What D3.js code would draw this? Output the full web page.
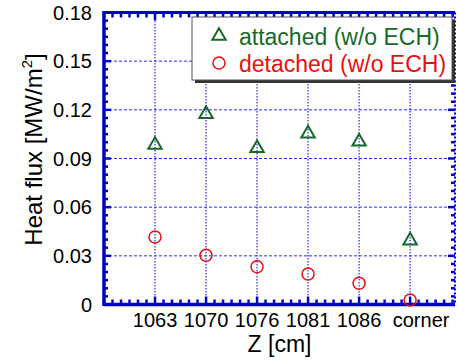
<!DOCTYPE html>
<html>
<head>
<meta charset="utf-8">
<script src="https://cdn.jsdelivr.net/npm/d3@7"></script>
<style>
  body { margin: 0; background: #fff; }
  svg { display: block; font-family: "Liberation Sans", Arial, sans-serif; }
</style>
</head>
<body>
<div id="chart"></div>
<script>
const categories = ['1063', '1070', '1076', '1081', '1086', 'corner'];
const attached = [0.099, 0.118, 0.097, 0.106, 0.101, 0.040];
const detached = [0.0416, 0.0303, 0.0233, 0.0188, 0.0131, 0.0028];
const yTicks = [0, 0.03, 0.06, 0.09, 0.12, 0.15, 0.18];
const yTickLabels = ['0', '0.03', '0.06', '0.09', '0.12', '0.15', '0.18'];

const width = 458, height = 360;
const blue = '#0000cc', grid = '#2b2bf0', green = '#17692b', red = '#e81010';

const svg = d3.select('#chart').append('svg')
    .attr('width', width)
    .attr('height', height);

const x = d3.scaleLinear().domain([-1, 5.88]).range([104, 455]);
const y = d3.scaleLinear().domain([0, 0.18]).range([304.5, 12.5]);

// grid
svg.append('g').selectAll('line')
    .data(yTicks.slice(1, -1))
  .enter().append('line')
    .attr('x1', x(-1)).attr('x2', x(5.88))
    .attr('y1', d => y(d)).attr('y2', d => y(d))
    .attr('stroke', grid).attr('stroke-width', 1)
    .attr('stroke-dasharray', '3,2');

svg.append('g').selectAll('line')
    .data(categories.map((c, i) => i))
  .enter().append('line')
    .attr('x1', d => x(d)).attr('x2', d => x(d))
    .attr('y1', y(0)).attr('y2', y(0.18))
    .attr('stroke', grid).attr('stroke-width', 1.2)
    .attr('stroke-dasharray', '1.5,1.5');

// minor / major ticks
const xMinor = d3.range(-1, 5.89, 1 / 6);
const yMinor = d3.range(0, 0.1801, 0.005);
const ticks = svg.append('g').attr('stroke', blue);

xMinor.forEach(v => {
  const major = Math.abs(v - Math.round(v)) < 1e-6 && v >= 0;
  const len = major ? 8 : 5;
  ticks.append('line').attr('x1', x(v)).attr('x2', x(v))
      .attr('y1', y(0)).attr('y2', y(0) - len).attr('stroke-width', 2.5);
  ticks.append('line').attr('x1', x(v)).attr('x2', x(v))
      .attr('y1', y(0.18)).attr('y2', y(0.18) + len).attr('stroke-width', 2.5);
});
yMinor.forEach(v => {
  const major = yTicks.some(t => Math.abs(t - v) < 1e-6);
  const len = major ? 7 : 4;
  ticks.append('line').attr('x1', x(-1)).attr('x2', x(-1) + len)
      .attr('y1', y(v)).attr('y2', y(v)).attr('stroke-width', 2.5);
  ticks.append('line').attr('x1', x(5.88)).attr('x2', x(5.88) - len)
      .attr('y1', y(v)).attr('y2', y(v)).attr('stroke-width', 2.5);
});

// frame
svg.append('line').attr('x1', x(-1)).attr('x2', x(-1))
    .attr('y1', y(0.18) - 1.5).attr('y2', y(0) + 1.5)
    .attr('stroke', blue).attr('stroke-width', 3.5);
svg.append('line').attr('x1', x(-1)).attr('x2', x(5.88))
    .attr('y1', y(0)).attr('y2', y(0))
    .attr('stroke', blue).attr('stroke-width', 3.5);
svg.append('line').attr('x1', x(-1)).attr('x2', x(5.88))
    .attr('y1', y(0.18)).attr('y2', y(0.18))
    .attr('stroke', blue).attr('stroke-width', 3);
svg.append('line').attr('x1', x(5.88)).attr('x2', x(5.88))
    .attr('y1', y(0.18)).attr('y2', y(0))
    .attr('stroke', blue).attr('stroke-width', 2)
    .attr('stroke-dasharray', '2,2');

// tick labels
svg.append('g').selectAll('text')
    .data(yTicks)
  .enter().append('text')
    .attr('x', 92).attr('y', d => y(d) + 7)
    .attr('text-anchor', 'end')
    .attr('font-size', 20)
    .text((d, i) => yTickLabels[i]);

svg.append('g').selectAll('text')
    .data(categories)
  .enter().append('text')
    .attr('x', (d, i) => x(i)).attr('y', 327)
    .attr('dx', (d, i) => i === categories.length - 1 ? 11 : 0)
    .attr('text-anchor', 'middle')
    .attr('font-size', 20)
    .text(d => d);

// axis titles
svg.append('text')
    .attr('x', (x(-1) + x(5.88)) / 2).attr('y', 352)
    .attr('text-anchor', 'middle')
    .attr('font-size', 23)
    .text('Z [cm]');

const yt = svg.append('text')
    .attr('transform', `translate(42,${(y(0) + y(0.18)) / 2 - 9}) rotate(-90)`)
    .attr('text-anchor', 'middle')
    .attr('font-size', 24);
yt.append('tspan').text('Heat flux [MW/m');
yt.append('tspan').attr('font-size', 15).attr('dy', -10).text('2');
yt.append('tspan').attr('dy', 10).text(']');

// markers
const tri = d3.symbol().type(d3.symbolTriangle).size(78);
svg.append('g').selectAll('path')
    .data(attached)
  .enter().append('path')
    .attr('d', tri)
    .attr('transform', (d, i) => `translate(${x(i)},${y(d) + 1})`)
    .attr('fill', 'none').attr('stroke', green).attr('stroke-width', 2);

svg.append('g').selectAll('circle')
    .data(detached)
  .enter().append('circle')
    .attr('cx', (d, i) => x(i)).attr('cy', d => y(d))
    .attr('r', 6)
    .attr('fill', 'none').attr('stroke', red).attr('stroke-width', 1.5);

// legend
const lg = svg.append('g');
lg.append('rect').attr('x', 195).attr('y', 20).attr('width', 260).attr('height', 63)
    .attr('fill', '#333');
lg.append('rect').attr('x', 192).attr('y', 17).attr('width', 260).attr('height', 63)
    .attr('fill', '#fff').attr('stroke', '#555').attr('stroke-width', 1);
lg.append('path').attr('d', tri)
    .attr('transform', 'translate(219,36)')
    .attr('fill', 'none').attr('stroke', green).attr('stroke-width', 2);
lg.append('circle').attr('cx', 219).attr('cy', 63).attr('r', 6)
    .attr('fill', 'none').attr('stroke', red).attr('stroke-width', 1.5);
lg.append('text').attr('x', 239).attr('y', 45).attr('font-size', 23)
    .attr('fill', green).text('attached (w/o ECH)');
lg.append('text').attr('x', 239).attr('y', 72).attr('font-size', 23)
    .attr('fill', red).text('detached (w/o ECH)');
</script>
</body>
</html>
